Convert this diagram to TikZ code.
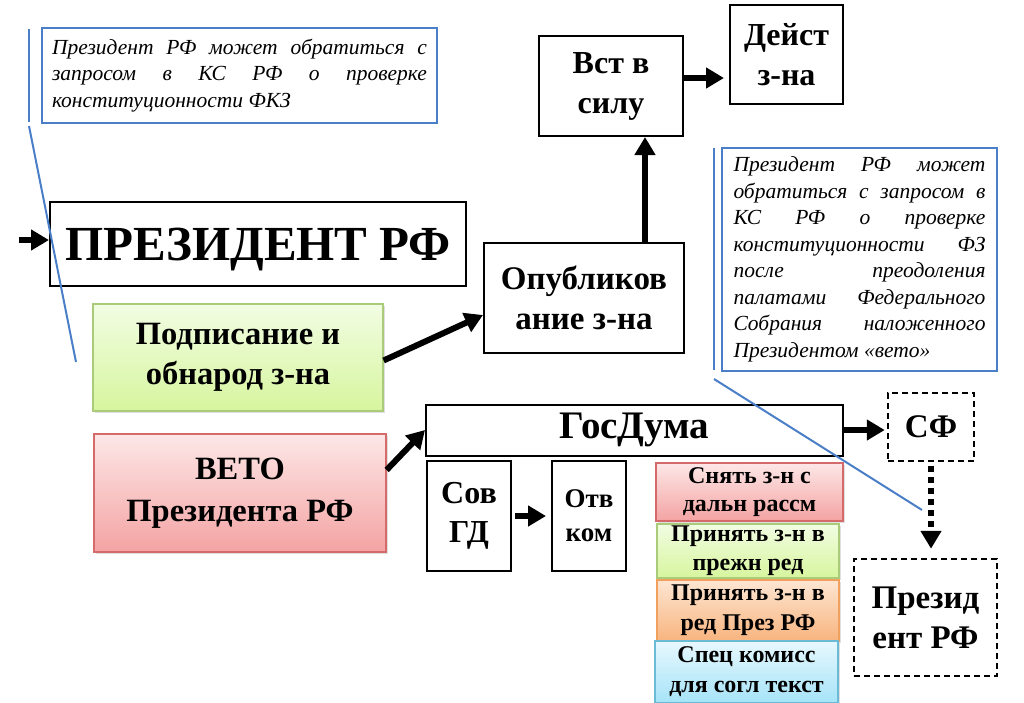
\documentclass[tikz,border=0pt]{standalone}
\usepackage{fontspec}
\setmainfont{Liberation Serif}
\usetikzlibrary{arrows.meta,shadows}
\definecolor{noteblue}{HTML}{4A7FC8}
\definecolor{grTop}{HTML}{F1FDE3}
\definecolor{grBot}{HTML}{D7F59E}
\definecolor{grLine}{HTML}{A9CB7A}
\definecolor{rdTop}{HTML}{FDE7E7}
\definecolor{rdBot}{HTML}{F4A3A3}
\definecolor{rdLine}{HTML}{D46A6A}
\definecolor{orTop}{HTML}{FDE6D3}
\definecolor{orBot}{HTML}{F8B47E}
\definecolor{orLine}{HTML}{F2A05E}
\definecolor{blTop}{HTML}{E7F8FE}
\definecolor{blBot}{HTML}{A6E3F8}
\definecolor{blLine}{HTML}{6BBAD6}

\begin{document}
\begin{tikzpicture}[x=1pt,y=-1pt,
    box/.style={draw=black,line width=2pt,align=center,inner sep=0pt},
    dbox/.style={box,line width=2.5pt,dash pattern=on 6pt off 4pt},
    txt/.style 2 args={font={\fontsize{#1}{#2}\selectfont\bfseries}},
    tinted/.style n args={3}{draw=#3,line width=1.2pt,top color=#1,bottom color=#2,
        align=center,inner sep=0pt,
        drop shadow={shadow xshift=1.5pt,shadow yshift=-2pt,opacity=.25}},
    note/.style={draw=noteblue,line width=2pt,inner ysep=0pt,align=justify,
        font={\fontsize{21.5}{26.5}\selectfont\itshape}},
    arr/.style={line width=6pt,-{Triangle[length=18pt,width=20pt]}},
    dotarr/.style={arr,dash pattern=on 6pt off 5pt},
    link/.style={draw=noteblue,line width=2pt},
    ]
    \useasboundingbox (0,0) rectangle (1024,702);

    % notes
    \node[note,inner xsep=10pt,text width=375pt,minimum height=95pt] (note1) at (239.5,75.5)
        {Президент РФ может обратиться с\linebreak
         запросом в КС РФ о проверке\linebreak
         конституционности ФКЗ};
    \node[note,inner xsep=11.5pt,text width=252pt,minimum height=223pt] (note2) at (859.5,259.5)
        {Президент РФ может\linebreak
         обратиться с запросом в\linebreak
         КС РФ о проверке\linebreak
         конституционности ФЗ\linebreak
         после преодоления\linebreak
         палатами Федерального\linebreak
         Собрания наложенного\linebreak
         Президентом «вето»};

    % president, signing, veto
    \node[box,txt={49}{58},text depth=0pt,minimum width=416pt,minimum height=84pt] (pres) at (258,244) {ПРЕЗИДЕНТ РФ};
    \node[tinted={grTop}{grBot}{grLine},txt={32.5}{40},minimum width=290pt,minimum height=107pt]
        (podp) at (238,357.5) {Подписание и\\обнарод з-на};
    \node[tinted={rdTop}{rdBot}{rdLine},txt={32.5}{42},minimum width=292pt,minimum height=118pt]
        (veto) at (240,493) {ВЕТО\\Президента РФ};

    % publication
    \node[box,txt={33}{40},minimum width=200pt,minimum height=110pt] (opub) at (584,298) {Опубликов\\ание з-на};
    \node[box,txt={32}{40},minimum width=144pt,minimum height=100pt] (vst) at (611,86) {Вст в\\силу};
    \node[box,txt={32}{40},minimum width=113pt,minimum height=99pt] (dejst) at (786.5,54.5) {Дейст\\з-на};

    % duma
    \node[box,txt={39}{46},minimum width=417pt,minimum height=51pt] (gd) at (634.5,430) {ГосДума};
    \node[box,txt={32}{39},minimum width=84pt,minimum height=110pt] (sov) at (469,516) {Сов\\ГД};
    \node[box,txt={27}{34},minimum width=74pt,minimum height=110pt] (otv) at (589,516) {Отв\\ком};

    % options of the duma
    \node[tinted={rdTop}{rdBot}{rdLine},txt={24}{28.5},minimum width=187pt,minimum height=58pt]
        (opt1) at (749.5,492) {Снять з-н с\\дальн рассм};
    \node[tinted={grTop}{grBot}{grLine},txt={24}{29},minimum width=182pt,minimum height=54pt]
        (opt2) at (748,551) {Принять з-н в\\прежн ред};
    \node[tinted={orTop}{orBot}{orLine},txt={24}{30},minimum width=182pt,minimum height=61pt]
        (opt3) at (748,610.5) {Принять з-н в\\ред През РФ};
    \node[tinted={blTop}{blBot}{blLine},txt={24}{30},minimum width=183pt,minimum height=62pt]
        (opt4) at (746.5,672) {Спец комисс\\для согл текст};

    % federation council
    \node[dbox,txt={33}{40},minimum width=86pt,minimum height=68pt] (sf) at (931,427) {СФ};
    \node[dbox,txt={33}{40},minimum width=143pt,minimum height=117pt] (prez) at (925.5,617.5) {Презид\\ент РФ};

    % arrows
    \coordinate (src) at (19,240);
    \draw[arr] (src) -- (src -| pres.west);
    \draw[arr] ([yshift=-3pt]podp.east) -- ([yshift=-17pt]opub.west);
    \draw[arr] ([yshift=23pt]veto.east) -- (gd.west);
    \coordinate (up) at ([xshift=61pt]opub.north);
    \draw[arr] (up) -- (up |- vst.south);
    \draw[arr,shorten >=5pt] ([yshift=8pt]vst.east) -- ([yshift=8pt]vst.east -| dejst.west);
    \draw[arr,shorten <=3pt,shorten >=5pt] (sov.east) -- (otv.west);
    \draw[arr,shorten >=2pt] (gd.east) -- (gd.east -| sf.west);
    \draw[dotarr,shorten <=4pt,shorten >=9pt] (sf.south) -- (sf.south |- prez.north);

    % callout lines
    \draw[link] (29,29) -- (29,122);
    \draw[link] (29,126) -- (76,362);
    \draw[link] (714,148) -- (714,370);
    \draw[link] (714,379) -- (922,510);
\end{tikzpicture}
\end{document}
